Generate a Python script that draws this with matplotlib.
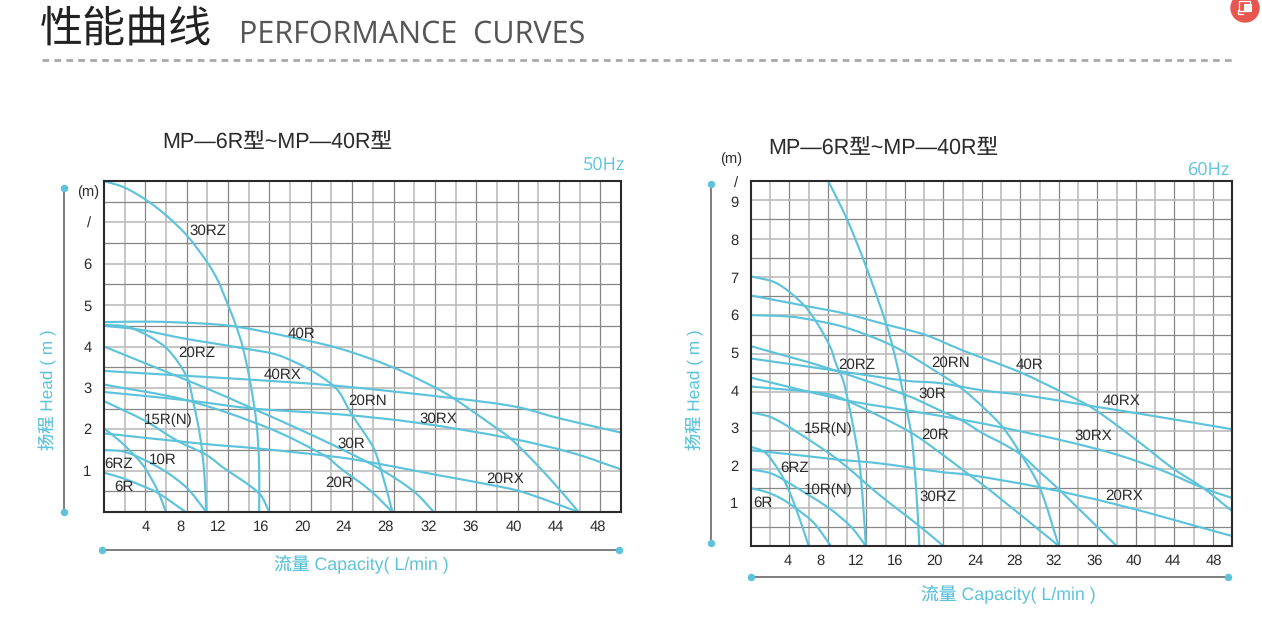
import matplotlib
matplotlib.use("Agg")
import matplotlib.pyplot as plt
from matplotlib.patches import Circle, Rectangle, PathPatch
from matplotlib.path import Path
import numpy as np

plt.rcParams['font.family'] = ['Liberation Sans', 'Noto Sans CJK SC', 'DejaVu Sans']
plt.rcParams['text.hinting'] = 'no_hinting'

W, H = 1262, 623
CYAN = '#5cc3da'
TXT = '#2b2b2b'

# ---------- 50 Hz curves: (flow, head) read on the grid ----------
L_30RZ_x = [0, 2, 4.2, 6.1, 8.06, 10, 11, 12, 12.8, 13.4, 14.1, 14.75, 15, 15]
L_30RZ_y = [8, 7.84, 7.52, 7.15, 6.67, 6.03, 5.6, 5, 4.48, 4.0, 3.19, 2.14, 1.1, 0]
L_40R_x = [0, 4.75, 9.9, 12.8, 17.8, 22.8, 28, 32, 33.8, 38, 39.3, 41.8, 44.1, 45.9]
L_40R_y = [4.59, 4.6, 4.55, 4.48, 4.24, 3.95, 3.49, 3.01, 2.75, 2.02, 1.78, 1.16, 0.53, 0]
L_40RX_x = [0, 8, 14.1, 22.5, 33.8, 39.9, 44.1, 50]
L_40RX_y = [3.41, 3.29, 3.2, 3.05, 2.75, 2.54, 2.26, 1.92]
L_30RX_x = [0, 8, 14.4, 22.8, 30.2, 39.3, 45.4, 50]
L_30RX_y = [2.9, 2.7, 2.5, 2.36, 2.16, 1.78, 1.42, 1.03]
L_20RX_x = [0, 9.9, 14.7, 22.8, 26.9, 32.3, 37.5, 40.4, 45.9]
L_20RX_y = [1.9, 1.64, 1.54, 1.32, 1.15, 0.89, 0.65, 0.49, 0]
L_20RN_x = [0, 3.4, 7.6, 13.1, 17.3, 22.2, 24, 26, 26.7, 27.9]
L_20RN_y = [4.5, 4.41, 4.2, 3.97, 3.75, 3.05, 2.34, 1.58, 1.1, 0]
L_20RZ_x = [0, 2.2, 4.4, 6.2, 8, 8.6, 9.3, 9.7, 9.9]
L_20RZ_y = [4.52, 4.48, 4.24, 3.92, 3.27, 2.7, 1.82, 0.93, 0]
L_30R_x = [0, 6, 9.9, 14.4, 18, 22.8, 26.9, 30, 31.9]
L_30R_y = [4.0, 3.39, 2.99, 2.5, 2.1, 1.54, 1.01, 0.49, 0]
L_20R_x = [0, 8, 16, 21.5, 22.8, 25.7, 27.9]
L_20R_y = [3.08, 2.7, 2.02, 1.34, 1.07, 0.53, 0]
L_15R_x = [0, 4, 7.1, 9.9, 11.5, 15, 16]
L_15R_y = [2.68, 2.2, 1.72, 1.38, 1.08, 0.45, 0]
L_10R_x = [0, 1.9, 3.9, 6, 8.06, 9.9]
L_10R_y = [1.5, 1.46, 1.26, 0.97, 0.57, 0]
L_6RZ_x = [0, 1.6, 3.2, 4, 5.16, 6]
L_6RZ_y = [2.02, 1.7, 1.3, 1.05, 0.53, 0]
L_6R_x = [0, 1.9, 3.9, 5.16, 7.9]
L_6R_y = [0.95, 0.81, 0.61, 0.47, 0]

# ---------- 60 Hz curves ----------
R_30RZ_x = [8.03, 9.93, 11.83, 14.08, 15.1, 16.2, 16.7, 17.2, 17.5]
R_30RZ_y = [9.5, 8.53, 7.36, 5.76, 4.8, 3.53, 2.84, 1.37, 0]
R_20RZ_x = [0, 2.66, 5.26, 6.64, 8.2, 8.9, 9.58, 10.1, 10.7, 11.25, 11.6, 11.94]
R_20RZ_y = [7.02, 6.84, 6.33, 5.89, 5.2, 4.7, 4.31, 3.75, 3.01, 2.19, 1.28, 0]
R_40R_x = [0, 5.43, 9.93, 14.08, 18.06, 22, 27.9, 33, 35.5, 40, 43.8, 47, 50]
R_40R_y = [6.52, 6.26, 6.04, 5.76, 5.5, 5.09, 4.53, 3.92, 3.59, 2.77, 2.03, 1.51, 0.91]
R_20RN_x = [0, 4.05, 6.64, 9.93, 14.8, 19.63, 21.9, 24.1, 26.2, 28.1, 30, 32]
R_20RN_y = [6.01, 5.97, 5.87, 5.68, 5.2, 4.48, 4.1, 3.62, 3.08, 2.37, 1.53, 0]
R_40RX_x = [0, 7.85, 16.2, 19.63, 24.1, 28.6, 35.2, 40, 50]
R_40RX_y = [4.88, 4.6, 4.3, 4.24, 4.05, 3.92, 3.65, 3.46, 3.04]
R_30R_x = [0, 7.85, 16.2, 19.63, 21.9, 24.1, 26.2, 28.1, 30, 31.9, 38]
R_30R_y = [5.2, 4.64, 3.92, 3.53, 3.27, 2.93, 2.66, 2.37, 1.93, 1.5, 0]
R_30RX_x = [0, 9.93, 16.2, 21.9, 26.2, 33, 38, 42.5, 47, 50]
R_30RX_y = [4.38, 3.79, 3.53, 3.29, 3.08, 2.71, 2.38, 1.99, 1.51, 1.25]
R_20R_x = [0, 7.85, 9.93, 16.5, 19.63, 22.7, 24.8, 32]
R_20R_y = [4.15, 3.96, 3.79, 2.97, 2.43, 1.85, 1.46, 0]
R_15R_x = [0, 2, 4.5, 9, 13.4, 17.4, 20]
R_15R_y = [3.47, 3.36, 3.01, 2.25, 1.32, 0.54, 0]
R_20RX_x = [0, 4, 9, 13.4, 19.63, 22.7, 30, 38, 50]
R_20RX_y = [2.49, 2.39, 2.25, 2.15, 1.93, 1.85, 1.53, 1.08, 0.26]
R_6RZ_x = [0, 1.38, 2.4, 3.46, 4.67, 6]
R_6RZ_y = [2.58, 2.45, 2.15, 1.71, 0.98, 0]
R_10RN_x = [0, 2.08, 4, 8.13, 10.4, 11.94]
R_10RN_y = [1.99, 1.89, 1.63, 0.98, 0.5, 0]
R_6R_x = [0, 1.56, 3.1, 4.67, 6.57, 8.3]
R_6R_y = [1.5, 1.41, 1.24, 0.98, 0.59, 0]

left_curves = [(L_30RZ_x, L_30RZ_y), (L_40R_x, L_40R_y), (L_40RX_x, L_40RX_y), (L_30RX_x, L_30RX_y),
               (L_20RX_x, L_20RX_y), (L_20RN_x, L_20RN_y), (L_20RZ_x, L_20RZ_y), (L_30R_x, L_30R_y),
               (L_20R_x, L_20R_y), (L_15R_x, L_15R_y), (L_10R_x, L_10R_y), (L_6RZ_x, L_6RZ_y), (L_6R_x, L_6R_y)]
right_curves = [(R_30RZ_x, R_30RZ_y), (R_20RZ_x, R_20RZ_y), (R_40R_x, R_40R_y), (R_20RN_x, R_20RN_y),
                (R_40RX_x, R_40RX_y), (R_30R_x, R_30R_y), (R_30RX_x, R_30RX_y), (R_20R_x, R_20R_y),
                (R_15R_x, R_15R_y), (R_20RX_x, R_20RX_y), (R_6RZ_x, R_6RZ_y), (R_10RN_x, R_10RN_y),
                (R_6R_x, R_6R_y)]

# tick labels (the printed numbers drift from the grid, so their places are separate)
x_labels = ['4', '8', '12', '16', '20', '24', '28', '32', '36', '40', '44', '48']
left_x_places = [4.06, 7.35, 11.0, 15.2, 19.15, 23.2, 27.2, 31.4, 35.5, 39.6, 43.7, 47.8]
right_x_places = [3.84, 7.17, 10.9, 15.0, 19.1, 23.3, 27.4, 31.5, 35.7, 39.8, 43.9, 48.1]
left_y_labels = ['1', '2', '3', '4', '5', '6', '/']
left_y_places = [1.0, 2.02, 3.02, 4.01, 5.0, 6.0, 7.0]
right_y_labels = ['1', '2', '3', '4', '5', '6', '7', '8', '9', '/']
right_y_places = [1.12, 2.1, 3.09, 4.05, 5.04, 6.03, 6.99, 7.97, 8.96, 9.45]

left_names = [('30RZ', 8.3, 6.8), ('40R', 17.8, 4.3), ('20RZ', 7.2, 3.85), ('40RX', 15.4, 3.31),
              ('20RN', 23.6, 2.69), ('30RX', 30.5, 2.26), ('15R(N)', 3.9, 2.22), ('30R', 22.6, 1.65),
              ('10R', 4.3, 1.26), ('6RZ', 0, 1.15), ('20R', 21.4, 0.7), ('20RX', 37.0, 0.79), ('6R', 1.0, 0.6)]
right_names = [('20RZ', 9.1, 4.7), ('20RN', 18.7, 4.76), ('40R', 27.5, 4.7), ('40RX', 36.6, 3.78),
               ('30R', 17.4, 3.96), ('30RX', 33.6, 2.86), ('15R(N)', 5.5, 3.04), ('20R', 17.7, 2.89),
               ('6RZ', 3.0, 2.04), ('10R(N)', 5.5, 1.46), ('30RZ', 17.5, 1.28), ('20RX', 36.8, 1.3),
               ('6R', 0.2, 1.13)]

fig = plt.figure(figsize=(W / 100, H / 100), dpi=100, facecolor='white')


def smooth_path(xs, ys, sx, sy):
    """Bezier through the read points, so the curve is not a polygon."""
    p = np.column_stack([xs, ys]).astype(float)
    scale = np.array([sx, sy])
    d = np.linalg.norm(np.diff(p * scale, axis=0), axis=1)
    verts = [tuple(p[0])]
    codes = [Path.MOVETO]
    tang = np.zeros_like(p)
    for i in range(1, len(p) - 1):
        tang[i] = (p[i + 1] - p[i - 1]) / (d[i - 1] + d[i])
    tang[0] = (p[1] - p[0]) / d[0]
    tang[-1] = (p[-1] - p[-2]) / d[-1]
    for i in range(len(p) - 1):
        verts += [tuple(p[i] + tang[i] * d[i] / 3), tuple(p[i + 1] - tang[i + 1] * d[i] / 3), tuple(p[i + 1])]
        codes += [Path.CURVE4] * 3
    return Path(verts, codes)


def chart(box, ymax, rows, curves, names, xplaces, yplaces, ylabels):
    x0, y0, x1, y1 = box
    ax = fig.add_axes([x0 / W, 1 - y1 / H, (x1 - x0) / W, (y1 - y0) / H])
    ax.set_xlim(0, 50)
    ax.set_ylim(0, ymax)
    step = ymax / rows
    for i in range(1, 25):
        ax.axvline(i * 2, color='#868686' if i % 2 == 0 else '#bcbcbc',
                   lw=0.9 if i % 2 == 0 else 1.2, zorder=1)
    for i in range(1, rows):
        ax.axhline(i * step, color='#868686' if i % 2 == 1 else '#bcbcbc',
                   lw=0.9 if i % 2 == 1 else 1.2, zorder=1)
    sx, sy = (x1 - x0) / 50, (y1 - y0) / ymax
    for xs, ys in curves:
        ax.add_patch(PathPatch(smooth_path(xs, ys, sx, sy), fill=False, edgecolor=CYAN, lw=1.55,
                               zorder=3, joinstyle='round'))
    for name, nx, ny in names:
        ax.text(nx, ny, name, fontsize=10.9, color=TXT, ha='left', va='center', zorder=4)
    ax.set_xticks(xplaces)
    ax.set_xticklabels(x_labels)
    ax.set_yticks(yplaces)
    ax.set_yticklabels(ylabels)
    ax.tick_params(axis='both', length=0, labelsize=10.6, labelcolor=TXT)
    ax.tick_params(axis='x', pad=6)
    ax.tick_params(axis='y', pad=9)
    for s in ax.spines.values():
        s.set_color('#2a2a2a')
        s.set_linewidth(1.5)
        s.set_zorder(5)
    return ax


chart((104, 181, 621, 512), 8, 16, left_curves, left_names, left_x_places, left_y_places, left_y_labels)
chart((751, 181, 1232, 546), 9.5, 19, right_curves, right_names, right_x_places, right_y_places, right_y_labels)

# page furniture drawn on a pixel-sized overlay
ov = fig.add_axes([0, 0, 1, 1], zorder=10)
ov.set_xlim(0, W)
ov.set_ylim(H, 0)
ov.axis('off')
ov.patch.set_alpha(0)

ov.text(40, 29, '性能曲线', fontsize=31, family=['Noto Sans CJK SC', 'DejaVu Sans'], color='#222222',
        va='center', ha='left', fontweight='light')
ov.text(239, 35, 'PERFORMANCE  CURVES', fontsize=22, family=['Open Sans', 'DejaVu Sans'], color='#555555',
        va='center', ha='left')
ov.plot([42, 1232], [59.5, 59.5], color='#a8a8a8', lw=2, dashes=(2.4, 1.9))

# red badge with its small white picture icon
ov.add_patch(Circle((1245, 8), 14, color='#e8574f', zorder=2))
ov.add_patch(Rectangle((1239, 1), 11, 10, fc='none', ec='white', lw=0.9, zorder=3))
ov.add_patch(Rectangle((1244, 4), 8, 8, fc='white', ec='none', zorder=3))
ov.plot([1238, 1238, 1243], [10, 14, 14], color='white', lw=0.9, zorder=3)

ov.text(162, 142.5, 'MP—6R型~MP—40R型', fontsize=15.5, color=TXT, ha='left', va='center')
ov.text(768, 148, 'MP—6R型~MP—40R型', fontsize=15.5, color=TXT, ha='left', va='center')
ov.text(583, 165, '50Hz', fontsize=13, family=['Open Sans', 'DejaVu Sans'], color=CYAN, ha='left', va='center')
ov.text(1188, 170.5, '60Hz', fontsize=13, family=['Open Sans', 'DejaVu Sans'], color=CYAN, ha='left', va='center')
ov.text(88.5, 192, '(m)', fontsize=10.6, color=TXT, ha='center', va='center')
ov.text(731, 159, '(m)', fontsize=10.6, color=TXT, ha='center', va='center')


def rail(xa, ya, xb, yb):
    ov.plot([xa, xb], [ya, yb], color='#5a5a5a', lw=1.1, zorder=2)
    ov.plot([xa, xb], [ya, yb], ls='none', marker='o', ms=5.4, color=CYAN, mec='none', zorder=3)


rail(64, 188, 64, 512)
rail(102, 550, 619, 550)
rail(711, 184, 711, 543)
rail(751, 577, 1228, 577)

ov.text(48, 390, '扬程 Head ( m )', fontsize=12.4, color=CYAN, rotation=90, ha='center', va='center')
ov.text(695, 390, '扬程 Head ( m )', fontsize=12.4, color=CYAN, rotation=90, ha='center', va='center')
ov.text(361, 564, '流量 Capacity( L/min )', fontsize=12.8, color=CYAN, ha='center', va='center')
ov.text(1008, 594, '流量 Capacity( L/min )', fontsize=12.8, color=CYAN, ha='center', va='center')

fig.savefig('out.png', dpi=100)
